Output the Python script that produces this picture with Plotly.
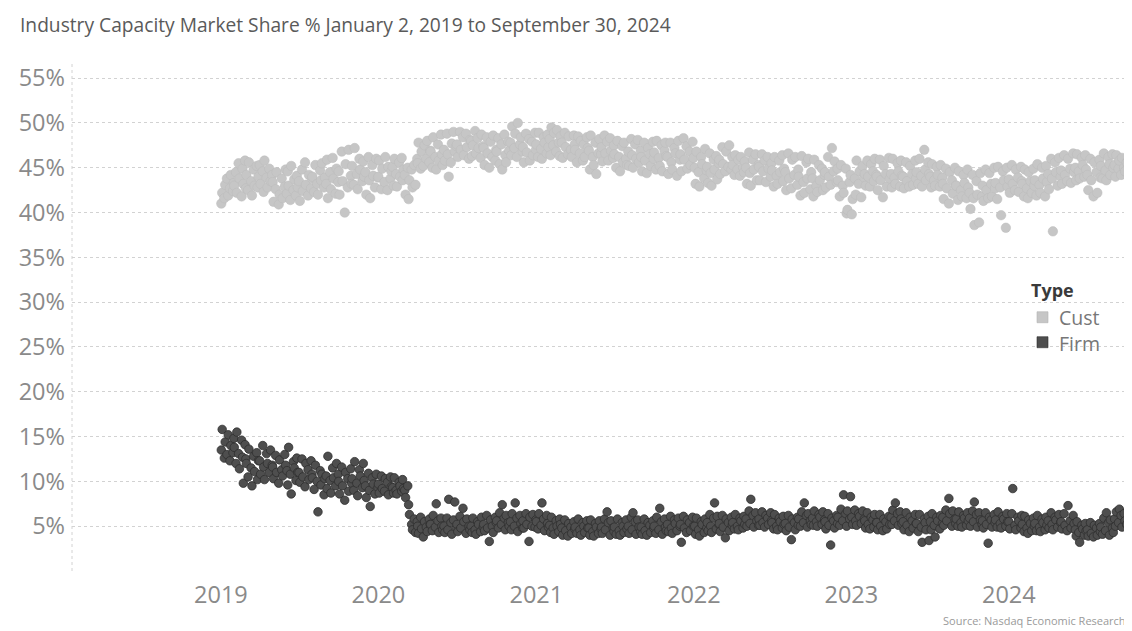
import numpy as np
import pandas as pd
import plotly.graph_objects as go

# ---------------- data (monthly samples of daily market share, %) ----------------
YEARS = [2019, 2020, 2021, 2022, 2023, 2024]

cust_2019 = [
    [41.0,42.2,41.6,43.1,43.8,41.9,42.7,44.2,42.4,43.3],
    [43.0,44.5,42.2,45.5,43.8,41.8,44.9,43.2,45.8,42.7],
    [44.2,42.5,45.6,43.5,41.9,44.8,43.0,45.2,42.8,44.0],
    [45.3,43.2,44.6,42.3,45.8,43.9,42.8,44.9,43.5,44.2],
    [43.4,41.2,42.6,44.5,40.9,42.0,43.8,41.6,42.9,44.8],
    [42.1,44.6,43.0,41.4,45.2,42.5,43.7,41.9,44.1,42.8],
    [43.5,41.3,44.8,42.4,45.6,43.1,41.9,44.2,42.7,43.8],
    [44.0,42.3,45.3,43.2,42.0,44.7,43.6,45.5,42.8,43.9],
    [43.2,45.9,41.6,44.5,42.6,46.1,43.8,42.1,44.9,43.4],
    [44.6,42.0,46.8,43.5,40.0,45.4,42.8,47.0,44.1,43.2],
    [45.2,43.1,47.2,44.3,42.6,46.0,44.8,43.5,45.7,44.0],
    [44.5,42.0,46.2,43.6,41.6,45.3,44.1,42.8,46.0,43.9],
]
cust_2020 = [
    [44.0,45.8,42.6,44.9,43.4,46.2,42.5,45.1,43.8,44.6],
    [45.1,43.0,46.0,44.3,42.9,45.6,44.0,46.1,43.6,44.8],
    [44.2,42.0,45.0,41.5,43.6,44.8,42.8,45.3,43.1,46.0],
    [45.5,47.8,44.9,46.8,45.2,47.5,46.0,48.0,45.6,46.9],
    [46.8,45.0,48.4,46.2,44.8,47.6,45.8,48.7,46.5,45.3],
    [47.0,45.8,48.8,46.5,44.0,45.6,47.7,49.0,46.8,47.4],
    [47.6,46.2,49.0,47.0,48.4,46.4,48.8,47.3,46.0,48.1],
    [48.0,46.3,47.5,49.1,46.6,48.3,47.2,46.1,48.7,47.4],
    [47.2,45.3,48.4,46.6,45.0,47.9,46.2,48.6,45.8,47.0],
    [46.8,48.3,45.4,47.6,44.8,48.7,46.4,45.6,47.9,46.9],
    [47.8,46.4,49.6,47.2,48.8,46.2,50.0,47.6,48.4,46.8],
    [47.3,45.6,48.8,46.7,48.2,45.8,47.9,46.4,48.9,47.0],
]
cust_2021 = [
    [47.6,46.2,48.9,47.1,46.0,48.4,47.8,46.6,48.7,47.3],
    [48.2,46.4,49.5,47.5,48.9,46.8,49.2,47.8,46.3,48.5],
    [47.8,46.1,48.9,47.3,46.5,48.5,47.0,46.2,48.6,47.6],
    [47.0,45.6,48.5,46.6,48.0,45.8,47.6,46.2,48.4,47.2],
    [46.9,44.8,48.6,46.2,45.3,47.8,44.3,46.6,48.2,46.5],
    [47.3,45.7,48.6,46.6,47.9,45.8,48.3,46.9,46.1,47.5],
    [46.5,45.0,48.0,46.2,44.6,47.4,45.6,47.8,46.0,45.3],
    [46.8,45.2,48.2,46.4,45.0,47.6,46.0,48.1,45.6,46.9],
    [46.2,44.6,47.8,45.8,44.4,47.2,46.5,45.2,47.9,46.0],
    [46.7,44.8,48.0,46.1,45.2,47.5,44.6,46.9,47.8,46.3],
    [46.2,44.3,47.8,45.6,44.8,47.2,46.6,44.1,48.0,45.9],
    [46.5,44.6,48.3,45.9,47.4,44.9,46.8,45.3,47.9,46.1],
]
cust_2022 = [
    [45.0,43.2,46.8,44.5,42.9,46.2,45.4,43.8,47.1,44.7],
    [45.1,43.3,46.6,44.4,43.0,45.9,44.8,46.3,43.7,45.5],
    [45.9,44.3,47.3,45.4,44.6,46.8,45.1,47.5,44.8,46.2],
    [45.3,44.2,46.4,44.8,45.9,44.1,46.2,45.0,44.5,45.7],
    [45.0,43.2,46.7,44.4,43.0,45.9,44.8,46.5,43.6,45.3],
    [45.1,43.6,46.5,44.6,45.8,43.4,46.2,44.9,44.0,45.5],
    [44.7,42.9,46.2,44.1,43.2,45.8,44.5,46.4,43.5,44.9],
    [44.5,42.5,46.6,43.8,42.7,45.9,44.2,46.2,43.1,44.8],
    [44.0,41.9,46.3,43.4,42.2,45.6,43.8,46.0,42.6,44.5],
    [43.8,41.8,45.9,43.0,42.3,45.3,43.6,44.9,42.5,44.2],
    [44.5,42.8,46.2,44.0,43.1,47.2,44.6,45.7,43.4,44.9],
    [43.6,41.8,45.3,43.0,42.2,44.9,39.9,40.3,43.4,44.2],
]
cust_2023 = [
    [39.8,41.5,43.8,42.0,45.8,43.2,44.6,41.7,45.2,43.9],
    [44.3,43.0,45.8,44.0,42.9,45.4,44.6,43.5,46.0,44.2],
    [44.0,42.5,45.9,43.6,41.7,45.2,44.3,42.9,46.1,43.8],
    [44.3,42.8,46.0,43.9,43.2,45.5,44.6,42.9,45.8,44.1],
    [44.0,42.7,45.6,43.5,42.9,45.2,44.3,43.1,45.8,43.8],
    [44.5,43.2,46.0,44.1,42.9,47.0,44.8,43.6,45.6,44.3],
    [44.0,42.8,45.4,43.6,43.0,45.1,44.2,42.9,45.3,43.9],
    [43.2,41.5,44.9,42.7,41.0,44.5,43.6,42.1,45.0,43.0],
    [43.0,41.4,44.6,42.5,41.8,44.2,43.3,41.6,44.8,42.8],
    [42.2,40.4,44.2,41.6,38.6,43.5,42.0,38.9,44.4,41.8],
    [43.0,41.3,44.8,42.5,41.6,44.4,43.2,41.8,45.0,42.7],
    [43.3,41.5,45.1,42.8,39.7,44.6,43.6,38.3,45.0,42.9],
]
cust_2024 = [
    [43.7,42.2,45.3,43.2,42.5,44.8,43.9,42.3,45.1,43.5],
    [43.2,41.8,44.8,42.7,41.6,44.5,43.5,42.2,44.9,43.0],
    [43.6,41.9,45.4,43.1,42.2,45.0,43.8,41.8,45.2,43.4],
    [44.3,42.6,46.0,43.8,37.9,45.6,44.5,43.0,46.1,44.0],
    [44.7,43.2,46.4,44.2,43.5,46.0,44.9,43.3,46.6,44.5],
    [45.0,43.6,46.5,44.6,43.8,46.1,45.3,44.0,46.4,44.8],
    [44.2,42.5,46.0,43.6,41.8,45.6,44.5,42.2,45.9,43.9],
    [45.2,43.8,46.6,44.7,43.6,46.2,45.4,44.2,46.5,45.0],
    [45.3,44.0,46.4,44.9,45.8,44.2,46.1,45.0,44.6,45.6],
]

firm_2019 = [
    [13.5,15.8,12.6,14.4,13.0,15.2,12.3,14.0,13.2,14.8],
    [13.8,12.0,15.5,13.1,11.4,14.6,12.7,9.8,14.1,12.5],
    [12.0,10.5,13.6,11.5,9.5,12.8,11.1,13.2,10.2,12.3],
    [12.3,10.8,14.0,11.6,10.2,13.1,12.0,11.0,13.5,11.8],
    [11.6,10.3,12.9,11.0,9.8,12.4,11.3,10.6,13.0,11.8],
    [11.2,9.6,13.8,10.8,8.6,12.2,11.5,10.1,12.6,11.0],
    [11.0,9.9,12.5,10.5,9.4,12.0,11.3,10.2,12.3,10.8],
    [10.4,9.1,11.8,10.0,6.6,11.2,9.6,10.8,8.5,10.3],
    [10.6,9.2,12.8,10.1,8.7,11.5,10.4,9.5,12.0,10.8],
    [10.0,8.6,11.6,9.5,7.9,11.0,10.3,8.9,11.4,9.8],
    [10.3,9.0,12.2,9.8,8.4,11.3,10.6,9.3,12.0,10.1],
    [9.5,8.2,10.9,9.0,7.2,10.4,9.7,8.6,10.8,9.3],
]
firm_2020 = [
    [9.7,8.7,10.6,9.2,8.9,10.3,9.9,8.5,10.5,9.4],
    [9.3,8.7,10.4,9.0,8.6,9.9,9.5,8.9,10.2,9.2],
    [9.0,8.2,9.5,7.4,6.3,5.2,4.6,5.8,4.3,5.5],
    [5.0,4.2,6.0,4.7,3.8,5.5,4.9,4.4,5.8,5.2],
    [5.2,4.5,6.2,4.9,7.5,5.6,4.3,5.9,5.0,4.6],
    [5.0,4.3,5.9,4.6,8.0,5.4,4.1,5.7,7.7,4.8],
    [5.2,4.4,6.1,4.8,7.0,5.5,4.2,5.8,5.0,4.6],
    [5.0,4.3,5.9,4.6,4.1,5.5,5.2,4.4,6.0,4.9],
    [5.2,4.5,6.2,4.8,3.3,5.7,5.0,4.3,6.0,5.4],
    [5.6,4.8,6.5,5.2,7.4,5.9,4.6,6.2,5.4,5.0],
    [5.5,4.6,6.4,5.0,7.6,5.9,4.4,6.2,5.3,4.8],
    [5.6,4.8,6.4,5.2,3.3,6.0,5.0,6.3,4.9,5.7],
]
firm_2021 = [
    [5.5,4.7,6.4,5.1,7.6,5.8,4.5,6.2,5.3,4.9],
    [5.1,4.3,6.0,4.8,4.1,5.6,5.0,4.4,5.8,5.2],
    [4.8,4.0,5.7,4.5,3.9,5.3,4.9,4.2,5.5,4.7],
    [4.9,4.2,5.8,4.6,4.0,5.4,5.0,4.3,5.6,4.8],
    [4.8,4.0,5.7,4.4,3.9,5.3,4.9,4.2,5.6,4.7],
    [4.9,4.2,5.8,4.6,6.6,5.4,4.0,5.6,4.8,4.4],
    [4.9,4.1,5.8,4.5,4.0,5.4,5.0,4.3,5.7,4.7],
    [5.0,4.2,6.0,4.6,6.5,5.5,4.1,5.7,4.9,4.4],
    [4.9,4.1,5.8,4.5,4.0,5.4,5.1,4.3,5.6,4.8],
    [5.0,4.2,6.0,4.6,7.0,5.5,4.1,5.8,4.9,4.5],
    [5.2,4.4,6.1,4.8,4.2,5.7,5.3,4.5,5.9,5.0],
    [5.2,3.2,6.1,4.8,4.3,5.7,5.4,4.5,6.0,5.0],
]
firm_2022 = [
    [5.0,4.1,5.9,4.6,3.9,5.5,5.2,4.3,5.8,4.8],
    [5.4,4.5,6.3,5.0,4.3,5.9,7.6,4.7,6.1,5.2],
    [5.3,4.4,6.2,4.9,3.7,5.8,5.4,4.5,6.0,5.1],
    [5.4,4.7,6.3,5.0,4.6,5.9,5.6,4.8,6.1,5.2],
    [5.8,5.0,6.7,5.3,8.0,6.2,4.9,6.5,5.6,5.1],
    [5.8,5.1,6.6,5.4,4.9,6.2,5.9,5.2,6.5,5.6],
    [5.4,4.7,6.3,5.0,4.6,5.9,5.5,4.8,6.1,5.2],
    [5.3,4.5,6.2,4.9,3.5,5.8,5.4,4.6,6.0,5.1],
    [5.8,5.0,6.6,5.4,7.6,6.2,4.9,6.4,5.6,5.2],
    [5.9,5.1,6.7,5.5,5.0,6.3,6.0,5.2,6.6,5.7],
    [5.5,4.7,6.4,5.1,2.9,5.9,5.6,4.8,6.2,5.3],
    [6.0,5.1,6.9,5.6,8.5,6.4,5.0,6.7,5.8,8.3],
]
firm_2023 = [
    [6.0,5.2,6.8,5.6,5.1,6.4,6.1,5.3,6.7,5.8],
    [5.6,4.8,6.5,5.2,4.7,6.0,5.7,4.9,6.3,5.4],
    [5.4,4.6,6.3,5.0,4.5,5.8,5.5,4.7,6.1,5.2],
    [6.0,5.2,6.8,5.6,7.6,6.4,5.1,6.6,5.8,5.3],
    [5.5,4.6,6.5,5.1,4.4,6.0,5.6,4.8,6.3,5.3],
    [5.3,4.4,6.3,4.9,3.2,5.8,5.4,4.6,6.1,3.4],
    [5.5,4.6,6.4,5.1,3.8,6.0,5.6,4.7,6.2,5.3],
    [6.0,5.1,6.8,5.6,8.1,6.4,5.0,6.7,5.8,5.3],
    [5.8,5.0,6.6,5.4,4.9,6.2,5.9,5.1,6.5,5.6],
    [5.9,5.0,6.7,5.5,7.7,6.3,4.9,6.5,5.7,5.2],
    [5.6,4.8,6.5,5.2,3.1,6.0,5.7,4.9,6.3,5.4],
    [5.7,4.9,6.6,5.3,4.8,6.1,5.8,5.0,6.4,5.5],
]
firm_2024 = [
    [5.5,4.7,6.4,9.2,5.1,4.6,6.0,5.6,4.8,6.2],
    [5.2,4.4,6.1,4.8,4.2,5.7,5.3,4.5,5.9,5.0],
    [5.3,4.5,6.2,4.9,4.4,5.8,5.4,4.6,6.0,5.1],
    [5.6,4.8,6.5,5.2,4.6,6.0,5.7,4.9,6.3,5.4],
    [5.5,4.7,6.4,5.1,4.5,7.3,5.6,4.8,6.2,5.3],
    [4.6,3.9,5.5,4.3,3.2,5.1,4.7,4.0,5.3,4.5],
    [4.6,3.9,5.4,4.2,3.8,5.1,4.8,4.0,5.3,4.4],
    [4.9,4.1,5.9,4.5,6.5,5.4,4.0,5.7,4.8,4.3],
    [5.8,5.0,6.6,5.4,6.9,6.2,4.9,6.4,5.6,5.2],
]

FIRST_DAY = "2019-01-02"
LAST_DAY = "2024-09-30"
y_tick_vals = [0, 5, 10, 15, 20, 25, 30, 35, 40, 45, 50, 55]
y_tick_text = ["", "5%", "10%", "15%", "20%", "25%", "30%", "35%", "40%", "45%", "50%", "55%"]
x_tick_vals = ["2019-01-01", "2020-01-01", "2021-01-01", "2022-01-01", "2023-01-01", "2024-01-01"]
x_tick_text = ["2019", "2020", "2021", "2022", "2023", "2024"]


def build(yearly):
    xs, ys = [], []
    first, last = pd.Timestamp(FIRST_DAY), pd.Timestamp(LAST_DAY)
    for year, months in zip(YEARS, yearly):
        for m, vals in enumerate(months, start=1):
            start = max(pd.Timestamp(year, m, 1), first)
            end = min(pd.Timestamp(year, m, 1) + pd.offsets.MonthEnd(0), last)
            days = pd.bdate_range(start, end)
            idx = np.linspace(0, len(days) - 1, len(vals)).round().astype(int)
            xs.extend(days[idx])
            ys.extend(vals)
    return xs, ys


cx, cy = build([cust_2019, cust_2020, cust_2021, cust_2022, cust_2023, cust_2024])
fx, fy = build([firm_2019, firm_2020, firm_2021, firm_2022, firm_2023, firm_2024])

# ---------------- figure ----------------
FONT = "Open Sans"
W, H = 1124, 623
ML, MR, MT, MB = 64, 1, 54, 59.5
PW, PH = W - ML - MR, H - MT - MB
OFF = 8  # page body margin


def px(sx):
    return (sx - OFF - ML) / PW


def py(sy):
    return (H - MB - (sy - OFF)) / PH


fig = go.Figure()
fig.add_trace(go.Scatter(
    x=cx, y=cy, mode="markers", name="Cust", showlegend=False,
    marker=dict(size=9.5, color="#c6c6c6", line=dict(color="#bababa", width=0.5)),
))
fig.add_trace(go.Scatter(
    x=fx, y=fy, mode="markers", name="Firm", showlegend=False,
    marker=dict(size=8.5, color="#4e4e4e", line=dict(color="#2e2e2e", width=0.8)),
))

grid = dict(gridcolor="#d2d2d2", griddash="dot", gridwidth=1)
fig.update_xaxes(
    type="date", range=["2018-01-21", "2024-10-10"],
    tickvals=x_tick_vals, ticktext=x_tick_text, showgrid=False, zeroline=False,
    showline=False, ticks="", ticklabelstandoff=7,
    tickfont=dict(family=FONT, size=23.5, color="#8a8a8a"),
)
fig.update_yaxes(
    range=[0, 56.8], tickvals=y_tick_vals, ticktext=y_tick_text,
    showgrid=True, zeroline=False, showline=False, ticks="", ticklabelstandoff=6,
    tickfont=dict(family=FONT, size=23.5, color="#8a8a8a"), **grid,
)

shapes = [
    dict(type="line", xref="paper", yref="paper", x0=0, x1=0, y0=0, y1=1,
         line=dict(color="#d2d2d2", width=1, dash="dot")),
    dict(type="rect", xref="paper", yref="paper", x0=px(1037), x1=px(1048),
         y0=py(323), y1=py(312), fillcolor="#c6c6c6", line=dict(color="#b4b4b4", width=0.6)),
    dict(type="rect", xref="paper", yref="paper", x0=px(1037), x1=px(1048),
         y0=py(348), y1=py(337), fillcolor="#4e4e4e", line=dict(color="#2e2e2e", width=0.6)),
]

annotations = [
    dict(text="Industry Capacity Market Share % January 2, 2019 to September 30, 2024",
         xref="paper", yref="paper", x=px(18), y=py(OFF + 1), xanchor="left", yanchor="top",
         showarrow=False, font=dict(family=FONT, size=19.2, color="#5a5a5a")),
    dict(text="Source: Nasdaq Economic Research", xref="paper", yref="paper",
         x=px(1128), y=py(621), xanchor="right", yanchor="middle", showarrow=False,
         font=dict(family=FONT, size=11, color="#9a9a9a")),
    dict(text="<b>Type</b>", xref="paper", yref="paper", x=px(1029), y=py(290),
         xanchor="left", yanchor="middle", showarrow=False,
         font=dict(family=FONT, size=18, color="#3a3a3a")),
    dict(text="Cust", xref="paper", yref="paper", x=px(1057), y=py(318),
         xanchor="left", yanchor="middle", showarrow=False,
         font=dict(family=FONT, size=19.5, color="#777777")),
    dict(text="Firm", xref="paper", yref="paper", x=px(1057), y=py(344),
         xanchor="left", yanchor="middle", showarrow=False,
         font=dict(family=FONT, size=19.5, color="#777777")),
]

fig.update_layout(
    width=W, height=H, margin=dict(l=ML, r=MR, t=MT, b=MB, pad=0),
    paper_bgcolor="white", plot_bgcolor="white",
    font=dict(family=FONT, color="#777777"),
    shapes=shapes, annotations=annotations, showlegend=False,
)

fig.write_html("out.html")
